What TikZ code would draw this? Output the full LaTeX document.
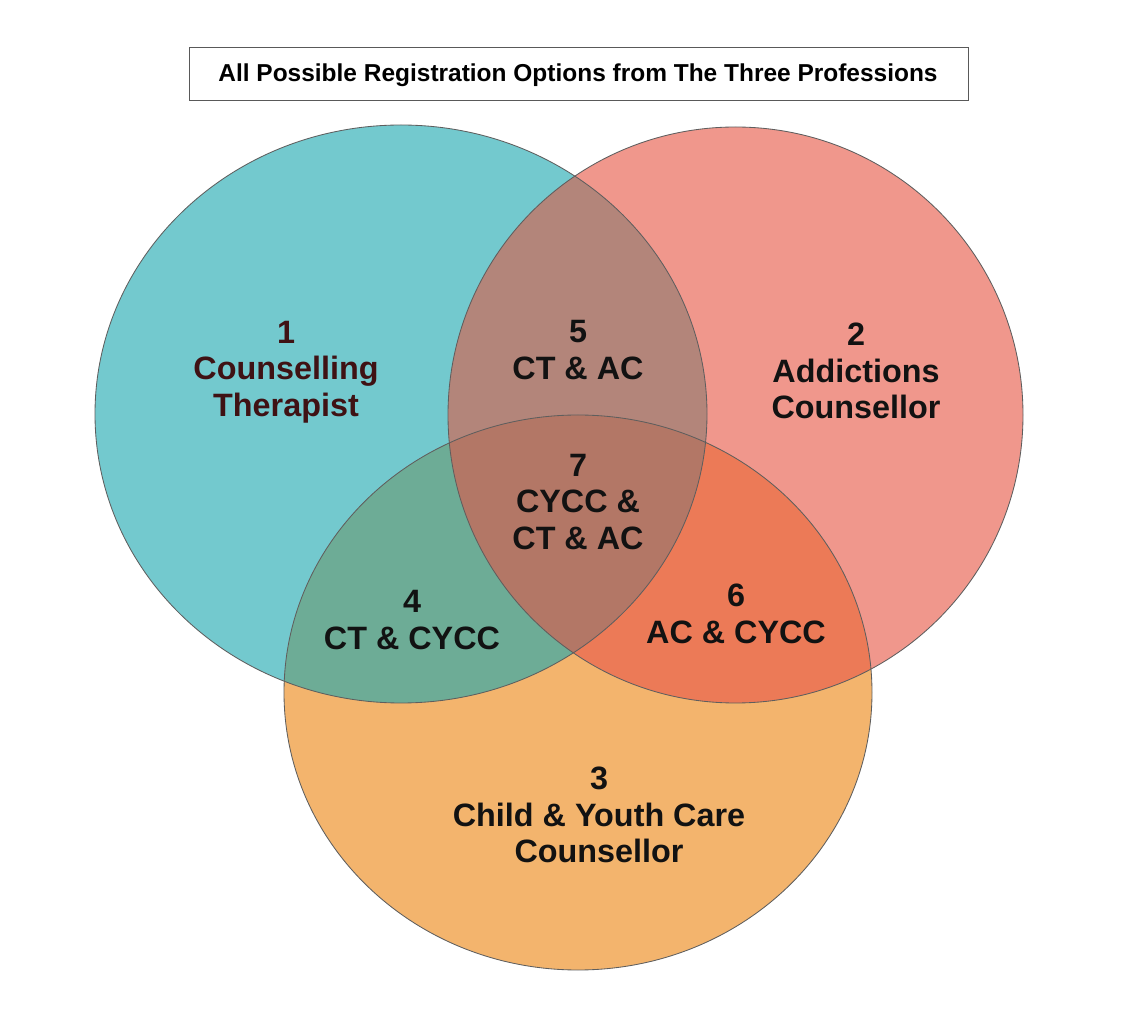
\documentclass[tikz,border=0pt]{standalone}
\usepackage{fontspec}
\setmainfont{Liberation Sans}
\definecolor{ctfill}{HTML}{73C9CE}
\definecolor{acfill}{HTML}{F0978C}
\definecolor{cyfill}{HTML}{F3B46D}
\definecolor{ctacfill}{HTML}{B3857A}
\definecolor{ctcyfill}{HTML}{6DAC96}
\definecolor{accyfill}{HTML}{EC7A57}
\definecolor{allfill}{HTML}{B37766}
\definecolor{ctdark}{HTML}{3F1214}
\definecolor{rimgray}{HTML}{5E5E5E}
\tikzset{
    ctshape/.style={insert path={(401,414) ellipse [x radius=306, y radius=289]}},
    acshape/.style={insert path={(735.5,415) ellipse [x radius=287.5, y radius=288]}},
    cyshape/.style={insert path={(578,692.5) ellipse [x radius=294, y radius=277.5]}},
    rim/.style={draw=rimgray, line width=0.6pt},
    lbl/.style={align=center, inner sep=0pt, text=black!93, font=\bfseries\fontsize{23}{26}\selectfont}
}
\begin{document}
\begin{tikzpicture}[x=0.025cm, y=-0.025cm]
    \fill[white] (0,0) rectangle (1134,1036);
    \useasboundingbox (0,0) rectangle (1134,1036);
    % the three professions
    \fill[ctfill, ctshape];
    \fill[acfill, acshape];
    \fill[cyfill, cyshape];
    % overlaps
    \begin{scope}
        \clip[ctshape];
        \fill[ctacfill, acshape];
    \end{scope}
    \begin{scope}
        \clip[ctshape];
        \fill[ctcyfill, cyshape];
    \end{scope}
    \begin{scope}
        \clip[acshape];
        \fill[accyfill, cyshape];
    \end{scope}
    \begin{scope}
        \clip[ctshape];
        \clip[acshape];
        \fill[allfill, cyshape];
    \end{scope}
    \draw[rim, ctshape];
    \draw[rim, acshape];
    \draw[rim, cyshape];
    % title
    \node[draw=black!65, line width=0.7pt, minimum width=19.45cm, minimum height=1.3cm, inner sep=0pt] (title) at (579,74) {};
    \node[font=\bfseries\fontsize{17.4}{20}\selectfont, inner sep=0pt] (titletext) at (578,75) {All Possible Registration Options from The Three Professions};
    % region labels
    \node[lbl, text=ctdark] (ct) at (286,372) {1\\Counselling\\Therapist};
    \node[lbl] (ac) at (856,371) {2\\Addictions\\Counsellor};
    \node[lbl] (cy) at (599,815) {3\\Child \& Youth Care\\Counsellor};
    \node[lbl] (ctcy) at (412,620) {4\\CT \& CYCC};
    \node[lbl] (ctac) at (578,350) {5\\CT \& AC};
    \node[lbl] (accy) at (736,614) {6\\AC \& CYCC};
    \node[lbl] (all) at (578,502) {7\\CYCC \&\\CT \& AC};
\end{tikzpicture}
\end{document}
